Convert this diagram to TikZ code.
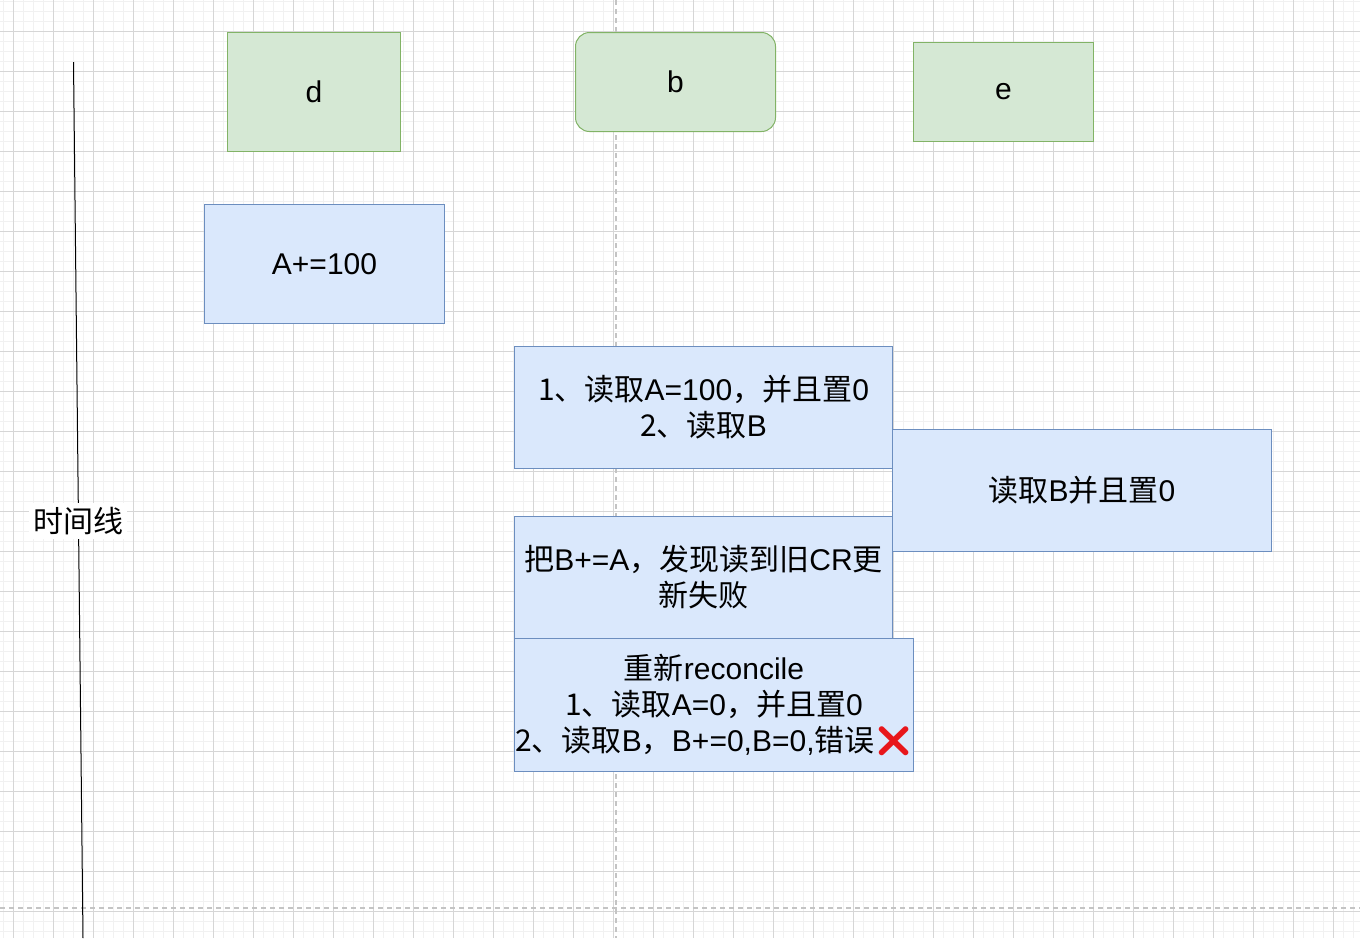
\documentclass[tikz,border=0pt]{standalone}
\usepackage{fontspec}
\setmainfont{Liberation Sans}
\newfontfamily\cjk{Noto Sans CJK SC}
\newfontfamily\emo{Noto Emoji}
\newcommand{\zh}[1]{{\cjk #1}}
\usetikzlibrary{positioning}

\definecolor{greenfill}{HTML}{D5E8D4}
\definecolor{greenline}{HTML}{82B366}
\definecolor{bluefill}{HTML}{DAE8FC}
\definecolor{blueline}{HTML}{6C8EBF}
\definecolor{gridminor}{HTML}{F1F1F1}
\definecolor{gridmajor}{HTML}{D6D6D6}
\definecolor{guide}{HTML}{C4C4C4}
\definecolor{crossred}{HTML}{E8161B}

\begin{document}
\begin{tikzpicture}[
        x=1pt, y=-1pt,
        every node/.style={font=\fontsize{30}{36}\selectfont, align=center, inner sep=0pt},
        greenbox/.style={rectangle, draw=greenline, fill=greenfill, line width=1pt, anchor=north west},
        bluebox/.style={rectangle, draw=blueline, fill=bluefill, line width=1pt, anchor=north west},
        guideline/.style={draw=guide, line width=1.5pt, dash pattern=on 5pt off 4pt}
    ]

    % Background
    \useasboundingbox (0,0) rectangle (1360,938);
    \fill[white] (0,0) rectangle (1360,938);
    \foreach \gx in {3.5,13.5,...,1360} \draw[gridminor, line width=0.8pt] (\gx,0) -- (\gx,938);
    \foreach \gy in {1.5,11.5,...,938} \draw[gridminor, line width=0.8pt] (0,\gy) -- (1360,\gy);
    \foreach \gx in {13.5,53.5,...,1360} \draw[gridmajor, line width=0.9pt] (\gx,0) -- (\gx,938);
    \foreach \gy in {31.5,71.5,...,938} \draw[gridmajor, line width=0.9pt] (0,\gy) -- (1360,\gy);
    \draw[guideline] (616,0) -- (616,938);
    \draw[guideline] (0,908) -- (1360,908);

    % Timeline
    \coordinate (tltop) at (73.5,62);
    \coordinate (tlbot) at (83,938);
    \draw[black, line width=1pt] (tltop) -- (tlbot);
    \node[fill=white, inner sep=4pt] (tl) at (78,521) {\zh{时间线}};

    % Columns
    \node[greenbox, minimum width=173pt, minimum height=119pt] (d) at (227,32) {d};
    \node[greenbox, rounded corners=14pt, minimum width=200pt, minimum height=99pt] (b) at (575,32) {b};
    \node[greenbox, minimum width=180pt, minimum height=99pt] (e) at (913,42) {e};

    % Steps
    \node[bluebox, minimum width=240pt, minimum height=119pt] (addA) at (204,204) {A+=100};
    \node[bluebox, minimum width=378pt, minimum height=122pt] (readA) at (514,346)
        {\zh{1、读取}A=100\zh{，并且置}0\\\zh{2、读取}B};
    \node[bluebox, minimum width=379pt, minimum height=122pt] (readB) at (892,429)
        {\zh{读取}B\zh{并且置}0};
    \node[bluebox, minimum width=378pt, minimum height=122pt] (updB) at (514,516)
        {\zh{把}B+=A\zh{，发现读到旧}CR\zh{更}\\\zh{新失败}};
    \node[bluebox, minimum width=399pt, minimum height=133pt] (retry) at (514,638)
        {\zh{重新}reconcile\\\zh{1、读取}A=0\zh{，并且置}0\\\zh{2、读取}B\zh{，}B+=0,B=0,\zh{错误}{\color{crossred}\emo ❌}};

\end{tikzpicture}
\end{document}
